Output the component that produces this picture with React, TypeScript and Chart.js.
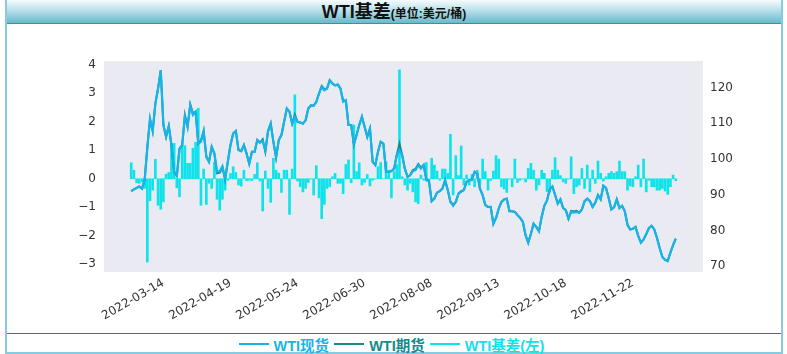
import React, { useEffect, useRef } from "react";
import { Chart, registerables } from "chart.js";

Chart.register(...registerables);

// ---- data (trading-day index based) ----
const X_TICK_LABELS = ["2022-03-14", "2022-04-19", "2022-05-24", "2022-06-30", "2022-08-08", "2022-09-13", "2022-10-18", "2022-11-22"];
const X_TICK_INDEX = [12, 37, 62, 87, 112, 137, 162, 187];

const LEFT_TICKS = [-3, -2, -1, 0, 1, 2, 3, 4];
const RIGHT_TICKS = [70, 80, 90, 100, 110, 120];

const WTI_SPOT = [
  91.0, 91.5, 91.9, 92.3, 91.7, 94.1, 102.9, 111.3, 107.8, 115.5,
  119.7, 124.8, 109.5, 106.2, 109.2, 103.9, 96.4, 95.3, 102.9, 103.9,
  111.8, 109.0, 115.0, 112.3, 113.2, 104.3, 104.8, 107.8, 100.6, 99.2,
  103.4, 101.5, 96.4, 96.6, 98.0, 94.5, 99.2, 103.9, 107.1, 107.8,
  102.5, 102.2, 103.9, 101.5, 98.7, 102.0, 102.0, 105.3, 104.6, 105.0,
  102.5, 107.8,
  109.9, 104.8, 100.6, 105.3, 106.7, 110.4, 114.1, 113.2, 109.9, 111.8,
  110.4, 110.2, 109.9, 110.8, 114.1, 115.0, 114.9, 116.0, 118.3, 120.2,
  119.2, 119.7, 122.0, 121.1, 120.6, 120.8, 119.7, 116.0, 116.4, 109.5,
  109.5, 104.3, 106.7, 109.5, 111.8, 109.0, 106.2, 108.5, 99.2, 98.3,
  102.0, 104.8, 104.3, 96.4, 96.4, 96.6, 97.3, 101.1, 102.5, 101.1,
  97.3, 95.0, 95.5,
  96.6, 96.9, 98.3, 97.3, 98.3, 94.1, 93.8, 88.2, 88.9, 90.6,
  91.0, 91.7, 94.1, 91.3, 88.0, 86.9, 88.0, 90.3, 90.8, 91.3,
  93.6, 94.1, 94.1, 96.4, 95.9, 91.7, 89.9, 87.1, 86.6, 86.6,
  81.9, 83.5, 86.1, 88.0, 88.7, 88.9, 85.4, 85.4, 85.2, 84.3,
  83.5, 82.4, 78.7, 76.6, 79.1, 81.9, 81.0, 79.8, 83.8, 86.9,
  88.4, 91.5,
  92.3, 90.0, 87.5, 88.7, 86.3, 85.7, 83.3, 85.2, 85.0, 85.2,
  85.0, 85.9, 88.2, 88.9, 88.2, 86.6, 87.8, 89.9, 88.7, 92.5,
  91.9, 89.1, 85.9, 86.5, 88.7, 86.3, 86.9, 85.4, 81.6, 80.3,
  80.5, 81.0, 78.5, 76.6, 77.5, 79.0, 80.7, 81.3, 80.3, 77.9,
  75.1, 72.6, 71.8, 71.4, 73.8, 75.9, 77.7,
];

const WTI_FUTURES = [
  91.0, 91.5, 91.9, 92.3, 91.7, 94.1, 103.5, 111.0, 107.8, 115.5,
  119.7, 124.8, 109.5, 106.2, 109.2, 103.9, 96.4, 95.3, 102.9, 103.9,
  112.3, 109.0, 115.3, 112.8, 113.2, 104.3, 105.2, 107.8, 100.6, 99.2,
  103.4, 101.5, 96.0, 96.2, 97.6, 94.2, 99.2, 103.9, 107.1, 107.8,
  102.5, 102.2, 103.9, 101.5, 98.7, 102.0, 102.0, 105.3, 104.6, 105.5,
  102.0, 107.8,
  109.9, 104.8, 100.3, 105.3, 106.7, 110.4, 114.1, 113.2, 109.9, 112.4,
  110.4, 110.2, 109.9, 110.8, 114.1, 115.0, 114.9, 116.0, 118.3, 120.4,
  119.5, 119.7, 122.0, 121.1, 120.6, 120.8, 119.7, 116.3, 116.4, 109.5,
  109.5, 104.0, 106.7, 109.5, 111.8, 109.0, 106.2, 108.5, 99.2, 98.3,
  102.0, 104.8, 104.3, 96.4, 96.4, 96.6, 97.3, 101.1, 104.3, 101.1,
  97.3, 95.0, 95.5,
  96.9, 97.2, 98.6, 97.6, 98.3, 94.4, 93.8, 88.2, 88.9, 90.6,
  91.0, 91.7, 94.1, 91.3, 88.0, 87.2, 88.0, 90.3, 91.0, 91.3,
  93.6, 94.1, 94.3, 96.4, 95.9, 91.7, 89.9, 87.1, 86.6, 86.6,
  81.9, 83.5, 86.1, 88.0, 88.7, 88.9, 85.4, 85.4, 85.2, 84.3,
  83.5, 82.4, 78.7, 76.6, 79.1, 81.9, 81.0, 79.8, 83.8, 86.9,
  88.4, 91.5,
  92.3, 90.0, 87.5, 88.7, 86.3, 85.7, 83.3, 85.5, 85.3, 85.5,
  85.0, 85.9, 88.2, 88.9, 88.2, 86.6, 87.8, 89.9, 88.7, 92.5,
  91.9, 89.1, 85.9, 86.5, 88.7, 86.3, 86.9, 85.4, 81.6, 80.3,
  80.5, 81.0, 78.5, 76.6, 77.5, 79.0, 80.7, 81.3, 80.3, 77.9,
  75.1, 72.6, 71.8, 71.6, 73.8, 75.9, 77.7,
];

const WTI_BASIS = [
  0.56, 0.30, -0.14, -0.16, -0.11, -0.34, -2.92, -0.77, -0.40, 0.68,
  -0.93, -1.07, -0.81, 0.16, 0.22, 1.24, 1.24, -0.32, -0.63, 1.18,
  1.16, 0.54, 0.54, 1.07, 1.28, 2.47, -0.93, 0.34, -0.90, -0.16,
  -0.34, 0.57, -0.72, -1.10, -0.72, -0.40, -0.05, 0.19, 0.42, 0.22,
  -0.22, -0.26, 0.30, -0.07, -0.05, -0.06, 0.15, 0.56, -0.08, -1.13,
  0.27, -0.34,
  -0.83, 0.72, 0.30, 0.20, -0.48, 0.30, 0.30, -1.25, 0.34, 2.94,
  -0.08, -0.28, -0.46, -0.34, -0.13, -0.01, -0.57, 0.46, -0.67, -1.40,
  -0.90, -0.34, -0.28, 0.07, 0.19, -0.16, -0.16, -0.52, 0.50, 0.66,
  -0.14, 1.89, 0.25, 0.56, -0.22, -0.13, 0.15, -0.25, -0.05, -0.01,
  0.42, 0.57, 0.00, 0.60, 0.30, -0.67, 0.25, 0.50, 3.82, 0.07,
  -0.22, -0.40,
  -0.16, -0.46, -0.81, -0.87, 0.13, -0.05, 0.57, -0.05, 0.72, 0.48,
  0.27, -0.05, 0.34, 0.34, 0.19, 1.56, -0.57, 0.81, 0.11, 1.15,
  -0.22, 0.13, -0.22, 0.15, -0.28, 0.30, -0.20, 0.69, 0.25, -0.40,
  -0.06, 0.27, 0.81, 0.69, -0.28, -0.36, -0.48, -0.01, -0.28, 0.69,
  -0.13, -0.05, -0.01, -0.11, 0.36, 0.54, 0.30, -0.40, -0.22, 0.30,
  0.19, -0.45, -0.48,
  0.30, 0.74, 0.30, 0.11, -0.11, -0.16, -0.01, 0.77, -0.52, -0.28,
  -0.22, 0.36, -0.34, 0.48, -0.46, 0.30, -0.16, 0.62, 0.19, -0.08,
  0.07, 0.19, 0.25, 0.19, 0.25, 0.62, 0.25, 0.25, -0.40, -0.25,
  -0.28, 0.07, 0.48, -0.28, 0.69, -0.46, -0.05, -0.28, -0.28, -0.40,
  -0.40, -0.34, -0.43, -0.55, -0.28, 0.13, -0.07,
];

const SPOT_COLOR = "#17b4ea";
const FUT_COLOR = "#138a8c";
const BASIS_COLOR = "#0fe3ea";
const TICK_COLOR = "#333333";
const TICK_FONT = { family: "'DejaVu Sans', sans-serif", size: 12 };

const fmtMinus = (v: number) => (v < 0 ? "\u2212" + Math.abs(v) : String(v));

const plotBg = {
  id: "plotBg",
  beforeDraw(chart: any) {
    const { ctx, chartArea } = chart;
    if (!chartArea) return;
    ctx.save();
    ctx.fillStyle = "#eaeaf2";
    ctx.fillRect(chartArea.left, chartArea.top, chartArea.right - chartArea.left, chartArea.bottom - chartArea.top);
    ctx.restore();
  },
};

function WtiChart() {
  const ref = useRef<HTMLCanvasElement | null>(null);
  useEffect(() => {
    if (!ref.current) return;
    const n = WTI_SPOT.length;
    const toXY = (arr: number[]) => arr.map((v, i) => ({ x: i, y: v }));
    const chart = new Chart(ref.current, {
      type: "bar",
      data: {
        datasets: [
          {
            type: "line",
            label: "WTI现货",
            data: toXY(WTI_SPOT),
            yAxisID: "y1",
            borderColor: SPOT_COLOR,
            borderWidth: 2.2,
            pointRadius: 0,
            tension: 0,
            order: 1,
          } as any,
          {
            type: "line",
            label: "WTI期货",
            data: toXY(WTI_FUTURES),
            yAxisID: "y1",
            borderColor: FUT_COLOR,
            borderWidth: 2,
            pointRadius: 0,
            tension: 0,
            order: 2,
          } as any,
          {
            type: "bar",
            label: "WTI基差(左)",
            data: toXY(WTI_BASIS),
            yAxisID: "y",
            backgroundColor: BASIS_COLOR,
            borderWidth: 0,
            barThickness: 2,
            order: 3,
          } as any,
        ],
      },
      options: {
        responsive: false,
        maintainAspectRatio: false,
        animation: false,
        layout: { padding: { top: 37, left: 0, right: 0, bottom: 0 } },
        plugins: { legend: { display: false }, tooltip: { enabled: false } },
        scales: {
          x: {
            type: "linear",
            offset: false,
            min: -0.05 * (n - 1),
            max: (n - 1) * 1.05,
            grid: { display: false, drawTicks: false, offset: false },
            border: { display: false },
            afterBuildTicks: (s: any) => {
              s.ticks = X_TICK_INDEX.map((v) => ({ value: v }));
            },
            afterFit: (s: any) => {
              s.height = 61;
            },
            ticks: {
              autoSkip: false,
              minRotation: 30,
              maxRotation: 30,
              padding: 4,
              color: TICK_COLOR,
              font: TICK_FONT,
              callback: (_v: any, idx: number) => X_TICK_LABELS[idx],
            },
          },
          y: {
            type: "linear",
            position: "left",
            min: -3.27,
            max: 4.13,
            grid: { display: false, drawTicks: false },
            border: { display: false },
            afterBuildTicks: (s: any) => {
              s.ticks = LEFT_TICKS.map((v) => ({ value: v }));
            },
            afterFit: (s: any) => {
              s.width = 97;
            },
            ticks: {
              padding: 8,
              color: TICK_COLOR,
              font: TICK_FONT,
              callback: (v: any) => fmtMinus(Number(v)),
            },
          },
          y1: {
            type: "linear",
            position: "right",
            min: 68.4,
            max: 127.4,
            grid: { display: false, drawTicks: false },
            border: { display: false },
            afterBuildTicks: (s: any) => {
              s.ticks = RIGHT_TICKS.map((v) => ({ value: v }));
            },
            afterFit: (s: any) => {
              s.width = 78;
            },
            ticks: {
              padding: 7,
              color: TICK_COLOR,
              font: TICK_FONT,
              callback: (v: any) => String(v),
            },
          },
        },
      } as any,
      plugins: [plotBg],
    });
    return () => chart.destroy();
  }, []);
  return <canvas ref={ref} width={774} height={309} style={{ width: 774, height: 309, display: "block" }} />;
}

const legendItems = [
  { label: "WTI现货", color: SPOT_COLOR },
  { label: "WTI期货", color: FUT_COLOR },
  { label: "WTI基差(左)", color: BASIS_COLOR },
];

export default function App() {
  const uiFont = "'Liberation Sans', Arial, 'Noto Sans CJK SC', sans-serif";
  return (
    <div style={{ position: "absolute", left: 0, top: 0, width: 787, height: 354, background: "#fff", overflow: "hidden" }}>
      <div
        style={{
          position: "absolute",
          left: 5,
          top: 0,
          width: 774,
          height: 352,
          borderLeft: "2px solid #86cbe0",
          borderRight: "2px solid #86cbe0",
          borderBottom: "2px solid #86cbe0",
        }}
      >
        <div
          style={{
            position: "absolute",
            left: 0,
            top: 0,
            width: 774,
            height: 23,
            background: "linear-gradient(to bottom, #f6fbfd 0%, #b9e0e9 45%, #68bacb 100%)",
            borderBottom: "1px solid #3f8f9c",
            textAlign: "center",
            lineHeight: "24px",
            fontFamily: uiFont,
            fontWeight: "bold",
            color: "#111",
            whiteSpace: "nowrap",
          }}
        >
          <span style={{ fontSize: 18 }}>WTI基差</span>
          <span style={{ fontSize: 12 }}>(单位:美元/桶)</span>
        </div>
        <div style={{ position: "absolute", left: 0, top: 24 }}>
          <WtiChart />
        </div>
        <div
          style={{
            position: "absolute",
            left: 0,
            top: 333,
            width: 774,
            height: 19,
            borderTop: "1px solid #2e7d82",
            display: "flex",
            alignItems: "center",
            justifyContent: "center",
            fontFamily: uiFont,
            fontWeight: "bold",
            fontSize: 14.5,
            whiteSpace: "nowrap",
            paddingTop: 2,
            boxSizing: "border-box",
          }}
        >
          {legendItems.map((it) => (
            <span key={it.label} style={{ display: "inline-flex", alignItems: "center", color: it.color, marginRight: 5 }}>
              <span style={{ display: "inline-block", width: 30, height: 2, background: it.color, marginRight: 5 }} />
              {it.label}
            </span>
          ))}
        </div>
      </div>
    </div>
  );
}
